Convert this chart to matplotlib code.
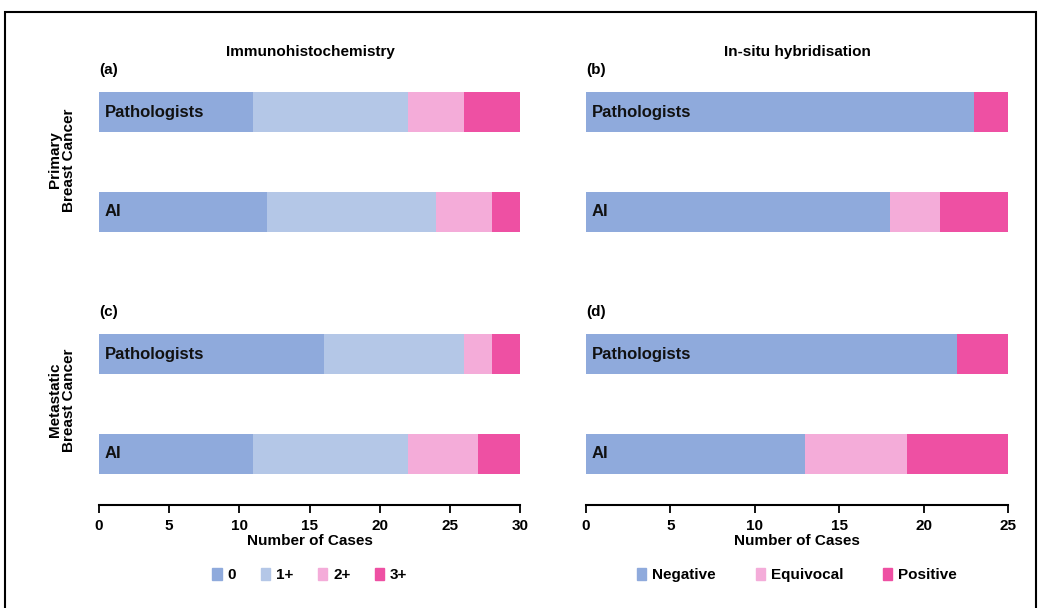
import matplotlib.pyplot as plt
from matplotlib.patches import Rectangle, Patch

# data
raters = ["Pathologists", "AI", "Pathologists", "AI"]
ihc_labels = ["0", "1+", "2+", "3+"]
ihc_values = [
    [11, 11, 4, 4],   # (a) primary, pathologists
    [12, 12, 4, 2],   # (a) primary, AI
    [16, 10, 2, 2],   # (c) metastatic, pathologists
    [11, 11, 5, 3],   # (c) metastatic, AI
]
ish_labels = ["Negative", "Equivocal", "Positive"]
ish_values = [
    [23, 0, 2],
    [18, 3, 4],
    [22, 0, 3],
    [13, 6, 6],
]

ihc_colors = ["#8FAADC", "#B4C7E7", "#F4ACD9", "#EE50A3"]
ish_colors = ["#8FAADC", "#F4ACD9", "#EE50A3"]

plt.rcParams["font.family"] = ["Liberation Sans", "DejaVu Sans"]

fig = plt.figure(figsize=(10.39, 6.08), dpi=100)

ypos = [0, 1, 2.42, 3.42]
ax_bottom = (608 - 505) / 608
ax_height = 420 / 608


def draw_panel(ax, values, colors, xmax, ticks):
    for i, row in enumerate(values):
        left = 0
        for v, c in zip(row, colors):
            ax.barh(ypos[i], v, left=left, height=0.4, color=c, edgecolor="none")
            left += v
        ax.annotate(raters[i], (0, ypos[i]), xytext=(4, 0), textcoords="offset points",
                    va="center", ha="left", fontsize=12, fontweight="bold", color="#111111")
    ax.set_xlim(0, xmax)
    ax.set_ylim(3.93, -0.27)
    ax.set_xticks(ticks)
    ax.set_yticks([])
    for s in ["top", "right", "left"]:
        ax.spines[s].set_visible(False)
    ax.spines["bottom"].set_linewidth(1.5)
    ax.tick_params(axis="x", direction="out", length=6, width=1.3, labelsize=11, pad=4)
    for t in ax.get_xticklabels():
        t.set_fontweight("bold")
    ax.set_xlabel("Number of Cases", fontsize=11, fontweight="bold", labelpad=1)


ax1 = fig.add_axes([99 / 1039, ax_bottom, 421 / 1039, ax_height])
draw_panel(ax1, ihc_values, ihc_colors, 30, [0, 5, 10, 15, 20, 25, 30])
ax2 = fig.add_axes([586 / 1039, ax_bottom, 422 / 1039, ax_height])
draw_panel(ax2, ish_values, ish_colors, 25, [0, 5, 10, 15, 20, 25])

# titles and panel letters
fig.text(310 / 1039, 1 - 52 / 608, "Immunohistochemistry", ha="center", va="center",
         fontsize=11, fontweight="bold")
fig.text(797 / 1039, 1 - 52 / 608, "In-situ hybridisation", ha="center", va="center",
         fontsize=11, fontweight="bold")
for lab, x, y in [("(a)", 99, 70), ("(b)", 586, 70), ("(c)", 99, 312), ("(d)", 586, 312)]:
    fig.text(x / 1039, 1 - y / 608, lab, ha="left", va="center", fontsize=11, fontweight="bold")

fig.text(62 / 1039, 1 - 160 / 608, "Primary\nBreast Cancer", rotation=90, ha="center",
         va="center", fontsize=11, fontweight="bold", linespacing=1.0)
fig.text(62 / 1039, 1 - 400 / 608, "Metastatic\nBreast Cancer", rotation=90, ha="center",
         va="center", fontsize=11, fontweight="bold", linespacing=1.0)

# legends
h1 = [Patch(color=c, label=l) for c, l in zip(ihc_colors, ihc_labels)]
fig.legend(handles=h1, loc="center", bbox_to_anchor=(310 / 1039, 1 - 575 / 608),
           ncol=4, frameon=False, handlelength=0.6, handleheight=0.9,
           handletextpad=0.4, columnspacing=1.6, prop={"size": 11, "weight": "bold"})
h2 = [Patch(color=c, label=l) for c, l in zip(ish_colors, ish_labels)]
fig.legend(handles=h2, loc="center", bbox_to_anchor=(797 / 1039, 1 - 575 / 608),
           ncol=3, frameon=False, handlelength=0.6, handleheight=0.9,
           handletextpad=0.4, columnspacing=2.6, prop={"size": 11, "weight": "bold"})

# outer frame
fig.patches.append(Rectangle((5 / 1039, -0.05), 1031 / 1039, 1.05 - 12 / 608,
                             transform=fig.transFigure, fill=False, edgecolor="black",
                             linewidth=1.5))

fig.savefig("out.png", dpi=100)
